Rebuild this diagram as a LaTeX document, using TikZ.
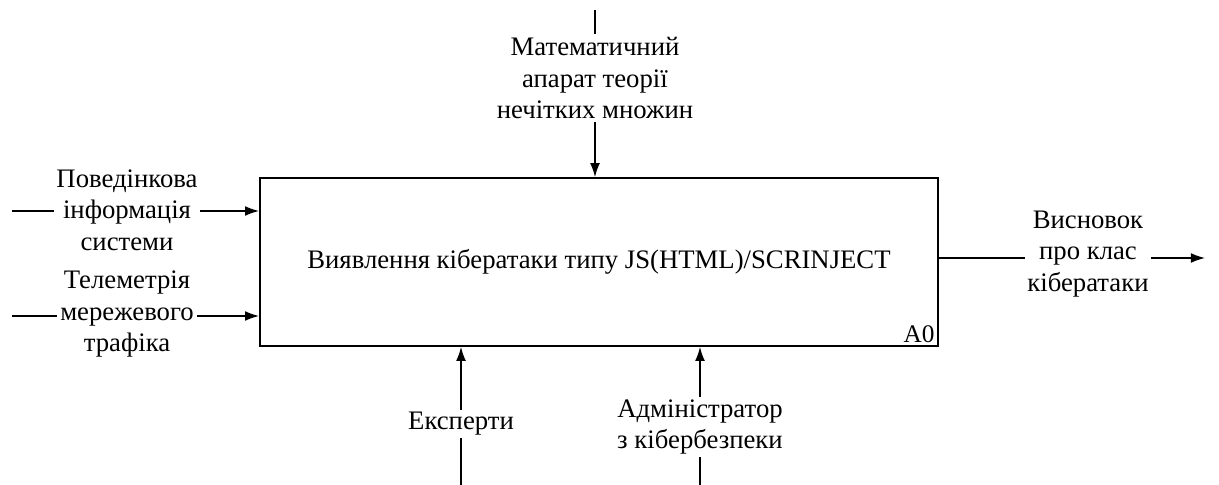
\documentclass[tikz,border=0pt]{standalone}
\usepackage{fontspec}
\setmainfont{Liberation Serif}
\usetikzlibrary{arrows.meta}

\tikzset{
  flow/.style={line width=1pt, -{Latex[length=10pt,width=7pt]}},
  lbl/.style={fill=white, align=center, inner sep=2pt,
    font=\fontsize{19}{22.5}\selectfont},
}

\begin{document}
\begin{tikzpicture}[x=0.025cm, y=-0.025cm]
  \useasboundingbox (0,0) rectangle (1219,485);

  % Main box
  \node[draw, line width=1.2pt, minimum width=16.95cm, minimum height=4.2cm,
        inner sep=0pt, font=\fontsize{19}{22.5}\selectfont] (box) at (599,262)
        {Виявлення кібератаки типу JS(HTML)/SCRINJECT};
  \node[anchor=south east, font=\fontsize{18}{22}\selectfont, inner sep=3pt]
        (code) at (box.south east) {A0};

  % Free ends
  \coordinate (inA) at (12,211);
  \coordinate (inB) at (12,316);
  \coordinate (outA) at (1205,258);
  \coordinate (ctlA) at (595,10);
  \coordinate (mechA) at (461,485);
  \coordinate (mechB) at (700,485);

  % Inputs
  \draw[flow] (inA) -- (box.west |- inA);
  \draw[flow] (inB) -- (box.west |- inB);
  \node[lbl] (inAtxt) at (127,210) {Поведінкова\\інформація\\системи};
  \node[lbl] (inBtxt) at (127,314) {Телеметрія\\мережевого\\трафіка};

  % Output
  \draw[flow] (box.east |- outA) -- (outA);
  \node[lbl] (outAtxt) at (1088,254) {Висновок\\про клас\\кібератаки};

  % Control
  \draw[flow] (ctlA) -- (box.north -| ctlA);
  \node[lbl] (ctlAtxt) at (595,78) {Математичний\\апарат теорії\\нечітких множин};

  % Mechanisms
  \draw[flow] (mechA) -- (box.south -| mechA);
  \draw[flow] (mechB) -- (box.south -| mechB);
  \node[lbl] (mechAtxt) at (461,424) {Експерти};
  \node[lbl] (mechBtxt) at (700,427) {Адміністратор\\з кібербезпеки};
\end{tikzpicture}
\end{document}
